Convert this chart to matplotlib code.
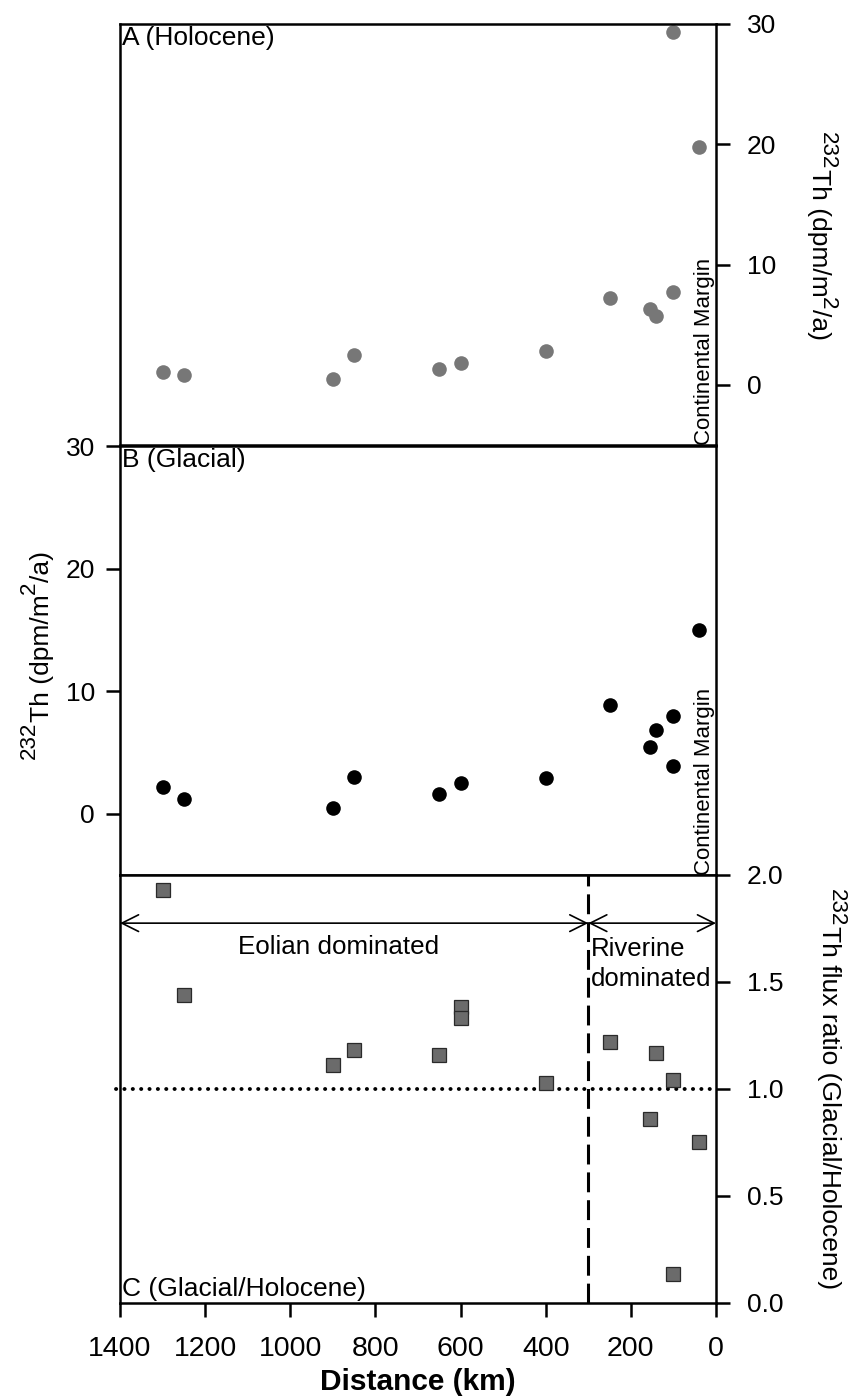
import numpy as np
import matplotlib.pyplot as plt
from matplotlib.transforms import IdentityTransform

plt.rcParams['font.family'] = ['Liberation Sans', 'DejaVu Sans']

# distance from coast (km) for each core
dist = [1300, 1250, 900, 850, 650, 600, 400, 250, 155, 140, 100, 100, 40]
# 232Th flux, Holocene (dpm/m2/a)
th_holo = [1.1, 0.8, 0.45, 2.5, 1.35, 1.8, 2.85, 7.25, 6.3, 5.7, 7.7, 29.3, 19.8]
# 232Th flux, Glacial (dpm/m2/a)
th_glac = [2.15, 1.2, 0.5, 3.0, 1.6, 2.5, 2.95, 8.85, 5.45, 6.8, 8.0, 3.9, 15.0]
# glacial/holocene ratio (as plotted)
ratio_dist = [1300, 1250, 900, 850, 650, 600, 600, 400, 250, 155, 140, 100, 100, 40]
ratio = [1.93, 1.44, 1.11, 1.18, 1.16, 1.385, 1.33, 1.03, 1.22, 0.86, 1.17, 1.04, 0.134, 0.75]

xticks = [1400, 1200, 1000, 800, 600, 400, 200, 0]
boundary = 300


def rich_label(fig, x_base, y_center, pieces, fontsize, rotation, raise_px, sup_scale=0.85):
    # vertical axis label with full-ish size superscripts, placed in pixels
    # (x_base = baseline x, y_center measured from the top of the figure)
    renderer = fig.canvas.get_renderer()
    H = fig.bbox.height
    sizes = [fontsize * sup_scale if sup else fontsize for _, sup in pieces]
    widths = []
    for (s, sup), fs in zip(pieces, sizes):
        t = fig.text(0, 0, s, fontsize=fs)
        widths.append(t.get_window_extent(renderer).width)
        t.remove()
    total = sum(widths)
    step = -1 if rotation == 270 else 1
    up = 1 if rotation == 270 else -1
    y = (H - y_center) - step * total / 2
    for (s, sup), fs, w in zip(pieces, sizes, widths):
        x = x_base + (up * raise_px if sup else 0)
        fig.text(x, y, s, fontsize=fs, rotation=rotation, rotation_mode='anchor',
                 ha='left', va='baseline', transform=IdentityTransform())
        y += step * w


lw = 1.8
fig = plt.figure(figsize=(8.53, 14), dpi=100)
left, width = 0.1407, 0.6987
axA = fig.add_axes([left, 0.6821, width, 0.3008])
axB = fig.add_axes([left, 0.375, width, 0.3064])
axC = fig.add_axes([left, 0.0693, width, 0.3057])

for ax in (axA, axB, axC):
    ax.set_xlim(1400, 0)
    for s in ax.spines.values():
        s.set_linewidth(lw)
    ax.tick_params(width=lw, length=10, labelsize=19, direction='out')

# A
axA.plot(dist, th_holo, 'o', color='#777777', ms=10.5, mec='none', clip_on=False)
axA.set_ylim(-5, 30)
axA.set_yticks([0, 10, 20, 30])
axA.yaxis.tick_right()
axA.tick_params(axis='y', pad=12)
axA.set_xticks([])
axA.text(0.004, 0.995, 'A (Holocene)', transform=axA.transAxes, fontsize=19, va='top', ha='left')
axA.text(0.998, 0.0, 'Continental Margin', transform=axA.transAxes, fontsize=16,
         rotation=90, ha='right', va='bottom')

# B
axB.plot(dist, th_glac, 'o', color='black', ms=10.5, mec='none', clip_on=False)
axB.set_ylim(-5, 30)
axB.set_yticks([0, 10, 20, 30])
axB.tick_params(axis='y', pad=8)
axB.set_xticks([])
axB.text(0.004, 0.995, 'B (Glacial)', transform=axB.transAxes, fontsize=19, va='top', ha='left')
axB.text(0.998, 0.0, 'Continental Margin', transform=axB.transAxes, fontsize=16,
         rotation=90, ha='right', va='bottom')

# C
axC.plot(ratio_dist, ratio, 's', color='#6b6b6b', ms=9.5, mec='#2a2a2a', mew=0.9,
         clip_on=False, zorder=3)
axC.set_ylim(0, 2.0)
axC.set_yticks([0.0, 0.5, 1.0, 1.5, 2.0])
axC.set_yticklabels(['0.0', '0.5', '1.0', '1.5', '2.0'])
axC.yaxis.tick_right()
axC.tick_params(axis='y', pad=12)
axC.set_xticks(xticks)
axC.set_xticklabels([str(v) for v in xticks])
axC.tick_params(axis='x', labelsize=20.5, pad=14, length=10)
axC.set_xlabel('Distance (km)', fontsize=21.5, fontweight='bold', labelpad=4)

axC.axhline(1.0, xmin=-0.006, xmax=1, color='black', lw=2.8, ls=(0, (0.05, 2.1)),
            dash_capstyle='round', clip_on=False)
axC.axvline(boundary, color='black', lw=2.2, ls=(0, (6.5, 2.6)))

arr_y = 1.775
for x0, x1 in [(1400, boundary), (boundary, 0)]:
    axC.annotate('', xy=(x0, arr_y), xytext=(x1, arr_y),
                 arrowprops=dict(arrowstyle='<->', lw=1.2, color='black', shrinkA=0, shrinkB=0,
                                 mutation_scale=30))
axC.text(887, 1.665, 'Eolian dominated', fontsize=18.7, ha='center', va='center')
axC.text(boundary - 6, 1.584, 'Riverine\ndominated', fontsize=18.5, ha='left', va='center',
         linespacing=1.3)
axC.text(0.004, 0.005, 'C (Glacial/Holocene)', transform=axC.transAxes, fontsize=19,
         va='bottom', ha='left')

# axis titles with superscripts
lab_th = [('232', True), ('Th (dpm/m', False), ('2', True), ('/a)', False)]
lab_ratio = [('232', True), ('Th flux ratio (Glacial/Holocene)', False)]
rich_label(fig, 812, 236, lab_th, 19, 270, 10)
rich_label(fig, 49, 655, lab_th, 19, 90, 14)
rich_label(fig, 822, 1089, lab_ratio, 19, 270, 9)

fig.savefig('out.png', dpi=100)
